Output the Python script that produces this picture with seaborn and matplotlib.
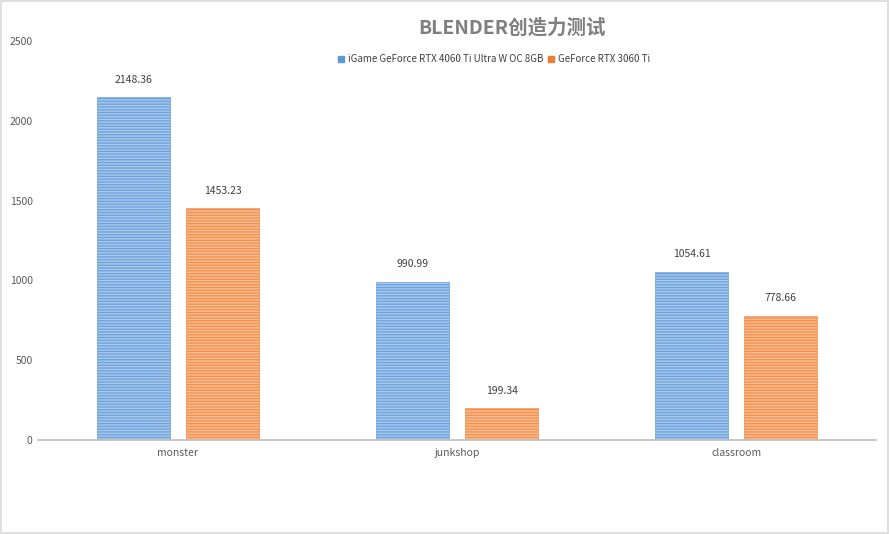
import matplotlib.pyplot as plt
import matplotlib.patches as mpatches
import pandas as pd
import seaborn as sns

# data
scenes = ['monster', 'junkshop', 'classroom']
cards = ['iGame GeForce RTX 4060 Ti Ultra W OC 8GB', 'GeForce RTX 3060 Ti']
rtx4060ti = [2148.36, 990.99, 1054.61]
rtx3060ti = [1453.23, 199.34, 778.66]
yticks = [0, 500, 1000, 1500, 2000, 2500]

face_colors = ['#A9CAEB', '#F9BD92']
hatch_colors = ['#6EA2DC', '#F29050']
solid_colors = ['#5B9BD5', '#ED7D31']

df = pd.DataFrame({
    'scene': scenes * 2,
    'card': [cards[0]] * 3 + [cards[1]] * 3,
    'score': rtx4060ti + rtx3060ti,
})

sns.set_style('white')
plt.rcParams['font.family'] = ['Noto Sans CJK SC', 'DejaVu Sans']
plt.rcParams['hatch.linewidth'] = 1.0

fig = plt.figure(figsize=(8.9, 5.34), dpi=100)
ax = fig.add_axes([0.043, 0.176, 0.941, 0.747])

sns.barplot(data=df, x='scene', y='score', hue='card', hue_order=cards,
            palette=face_colors, width=0.64, gap=0.18, ax=ax, legend=False,
            errorbar=None, saturation=1)

for i, container in enumerate(ax.containers):
    for bar in container:
        bar.set_hatch('------')
        bar.set_edgecolor(hatch_colors[i])
        bar.set_linewidth(0.5)
    ax.bar_label(container, labels=[f'{v:.2f}' for v in container.datavalues],
                 padding=9, fontsize=7.5, color='#404040')

ax.set_ylim(0, 2500)
ax.set_yticks(yticks)
ax.set_yticklabels([str(t) for t in yticks], fontsize=7.5, color='#595959')
ax.tick_params(axis='x', labelsize=7.5, colors='#595959', length=0, pad=6)
ax.tick_params(axis='y', length=0, pad=4)
ax.set_xlabel('')
ax.set_ylabel('')
for side in ['top', 'right', 'left']:
    ax.spines[side].set_visible(False)
ax.spines['bottom'].set_color('#BFBFBF')
ax.spines['bottom'].set_linewidth(1.2)

handles = [mpatches.Patch(color=c, label=l) for c, l in zip(solid_colors, cards)]
fig.legend(handles=handles, loc='center', bbox_to_anchor=(0.555, 0.889), ncol=2,
           frameon=False, fontsize=7, handlelength=0.6, handleheight=0.6,
           handletextpad=0.4, columnspacing=0.5, labelcolor='#404040')

fig.text(0.575, 0.948, 'BLENDER创造力测试', ha='center', va='center',
         fontsize=14, fontweight='bold', color='#7F7F7F')

fig.patches.append(mpatches.Rectangle((0.001, 0.002), 0.997, 0.996, transform=fig.transFigure,
                                      fill=False, edgecolor='#D9D9D9', linewidth=1.2))

fig.savefig('out.png', dpi=100)
